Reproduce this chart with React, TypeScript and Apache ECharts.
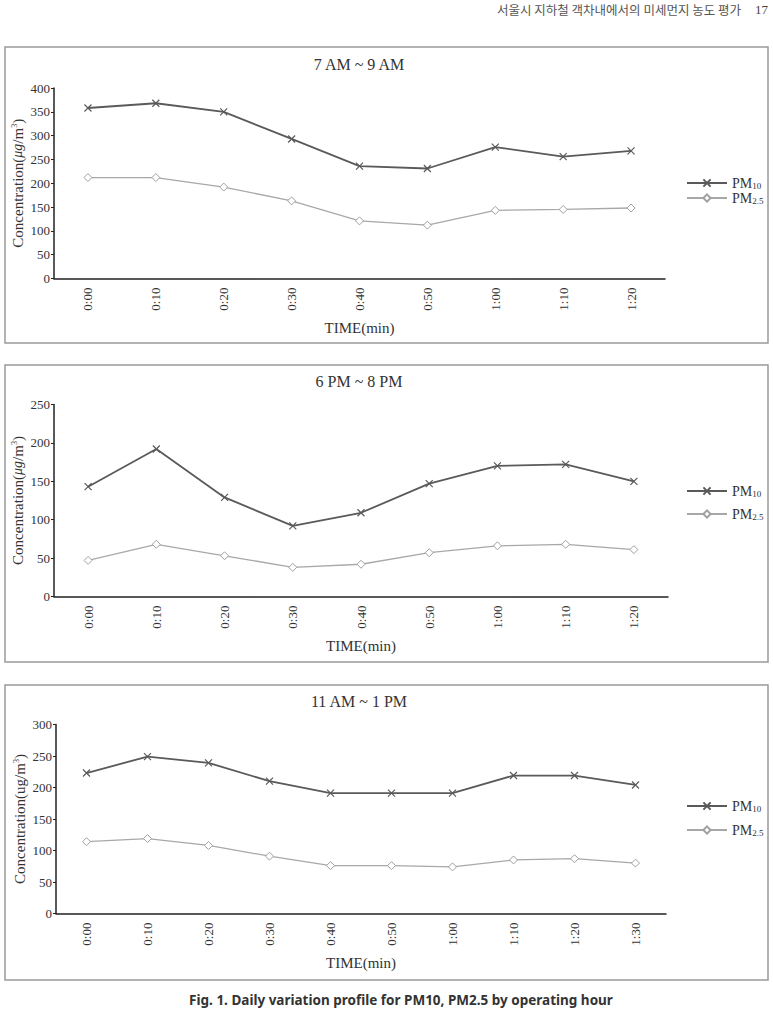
import React, { useEffect, useRef } from "react";
import * as echarts from "echarts";

const times1 = ["0:00", "0:10", "0:20", "0:30", "0:40", "0:50", "1:00", "1:10", "1:20"];
const pm10_1 = [358, 368, 350, 293, 236, 231, 276, 256, 268];
const pm25_1 = [212, 212, 192, 163, 121, 112, 143, 145, 148];

const times2 = ["0:00", "0:10", "0:20", "0:30", "0:40", "0:50", "1:00", "1:10", "1:20"];
const pm10_2 = [143, 192, 129, 92, 109, 147, 170, 172, 150];
const pm25_2 = [47, 68, 53, 38, 42, 57, 66, 68, 61];

const times3 = ["0:00", "0:10", "0:20", "0:30", "0:40", "0:50", "1:00", "1:10", "1:20", "1:30"];
const pm10_3 = [223, 249, 239, 210, 191, 191, 191, 219, 219, 204];
const pm25_3 = [114, 119, 108, 91, 76, 76, 74, 85, 87, 80];

const titles = ["7 AM ~ 9 AM", "6 PM ~ 8 PM", "11 AM ~ 1 PM"];
const yMax = [400, 250, 300];
const yInterval = [50, 50, 50];

const SERIF = "'Liberation Serif', 'DejaVu Serif', serif";
const CROSS = "path://M0,0L10,10M10,0L0,10";

export default function App() {
  const ref = useRef<HTMLDivElement>(null);
  useEffect(() => {
    document.body.style.margin = "0";
    const chart = echarts.init(ref.current!, null, { renderer: "svg" });
    const grids = [
      { left: 54, top: 88, width: 611, height: 190.5 },
      { left: 54, top: 404.5, width: 614, height: 192 },
      { left: 56, top: 724.5, width: 610, height: 189 },
    ];
    const cats = [times1, times2, times3];
    const pm10 = [pm10_1, pm10_2, pm10_3];
    const pm25 = [pm25_1, pm25_2, pm25_3];
    const yNames = [
      "Concentration({i|μg}/m{s|3})",
      "Concentration({i|μg}/m{s|3})",
      "Concentration(ug/m{s|3})",
    ];
    const legendTops = [176, 484, 799];
    const legendGaps = [1, 9, 10];

    const xAxis = grids.map((g, i) => ({
      type: "category",
      gridIndex: i,
      data: cats[i],
      boundaryGap: true,
      axisLine: { lineStyle: { color: "#222", width: 1.5 } },
      axisTick: { inside: true, length: 4, lineStyle: { color: "#222", width: 1.2 } },
      axisLabel: {
        rotate: 90,
        margin: 9,
        fontFamily: SERIF,
        fontSize: 13,
        color: "#333",
      },
      name: "TIME(min)",
      nameLocation: "middle",
      nameGap: 42,
      nameTextStyle: { fontFamily: SERIF, fontSize: 15, color: "#333" },
    }));
    const yAxis = grids.map((g, i) => ({
      type: "value",
      gridIndex: i,
      min: 0,
      max: yMax[i],
      interval: yInterval[i],
      splitLine: { show: false },
      axisLine: { show: true, lineStyle: { color: "#222", width: 1.5 } },
      axisTick: { show: true, length: 3, lineStyle: { color: "#222" } },
      axisLabel: { fontFamily: SERIF, fontSize: 13, color: "#333", margin: 4 },
      name: yNames[i],
      nameLocation: "middle",
      nameMoveOverlap: false,
      nameGap: 29,
      nameTextStyle: {
        fontFamily: SERIF,
        fontSize: 15,
        color: "#333",
        rich: {
          i: { fontFamily: SERIF, fontSize: 14, fontStyle: "italic", color: "#333" },
          s: { fontFamily: SERIF, fontSize: 8, color: "#333", padding: [0, 0, 6, 0] },
        },
      },
    }));
    const series: any[] = [];
    grids.forEach((g, i) => {
      series.push({
        name: "PM10",
        type: "line",
        xAxisIndex: i,
        yAxisIndex: i,
        data: pm10[i],
        symbol: CROSS,
        symbolSize: 7,
        lineStyle: { color: "#5a5a5a", width: 1.8 },
        itemStyle: { color: "#5a5a5a", borderColor: "#5a5a5a", borderWidth: 1.2 },
      });
      series.push({
        name: "PM2.5",
        type: "line",
        xAxisIndex: i,
        yAxisIndex: i,
        data: pm25[i],
        symbol: "diamond",
        symbolSize: 8,
        lineStyle: { color: "#a8a8a8", width: 1.3 },
        itemStyle: { color: "#ffffff", borderColor: "#a0a0a0", borderWidth: 1 },
      });
    });
    const legend = grids.map((g, i) => ({
      data: ["PM10", "PM2.5"],
      orient: "vertical",
      left: 686,
      top: legendTops[i],
      padding: 0,
      itemWidth: 40,
      itemHeight: 9,
      itemGap: legendGaps[i],
      formatter: (n: string) => (n === "PM10" ? "{a|PM}{b|10}" : "{a|PM}{b|2.5}"),
      textStyle: {
        rich: {
          a: { fontFamily: SERIF, fontSize: 14, color: "#333" },
          b: { fontFamily: SERIF, fontSize: 9, color: "#333", padding: [5, 0, 0, 0] },
        },
      },
    }));
    const boxes = [
      [5, 47, 763, 296],
      [5, 365, 763, 297],
      [5, 685, 763, 295],
    ];
    const titleY = [64, 381, 701];
    const graphic: any[] = [];
    boxes.forEach((b, i) => {
      graphic.push({
        type: "rect",
        shape: { x: b[0], y: b[1], width: b[2], height: b[3] },
        style: { fill: "none", stroke: "#9a9a9a", lineWidth: 1.5 },
        silent: true,
      });
      graphic.push({
        type: "text",
        x: 359,
        y: titleY[i],
        style: {
          text: titles[i],
          fontFamily: SERIF,
          fontSize: 16,
          fill: "#333",
          textAlign: "center",
          textVerticalAlign: "middle",
        },
      });
    });
    graphic.push({
      type: "text",
      x: 741,
      y: 9,
      style: {
        text: "서울시 지하철 객차내에서의 미세먼지 농도 평가",
        fontFamily: "'Noto Sans CJK KR', sans-serif",
        fontSize: 12.5,
        fill: "#555",
        textAlign: "right",
        textVerticalAlign: "middle",
      },
    });
    graphic.push({
      type: "text",
      x: 768,
      y: 9,
      style: {
        text: "17",
        fontFamily: SERIF,
        fontSize: 13,
        fill: "#444",
        textAlign: "right",
        textVerticalAlign: "middle",
      },
    });
    graphic.push({
      type: "text",
      x: 401,
      y: 1000,
      style: {
        text: "Fig. 1. Daily variation profile for PM10, PM2.5 by operating hour",
        fontFamily: "'Noto Sans', sans-serif",
        fontWeight: "bold",
        fontSize: 13.5,
        fill: "#333",
        textAlign: "center",
        textVerticalAlign: "middle",
      },
    });

    chart.setOption({
      animation: false,
      backgroundColor: "#ffffff",
      grid: grids,
      xAxis,
      yAxis,
      series,
      legend,
      graphic,
    });
    return () => chart.dispose();
  }, []);
  return <div ref={ref} style={{ width: 773, height: 1009 }} />;
}
